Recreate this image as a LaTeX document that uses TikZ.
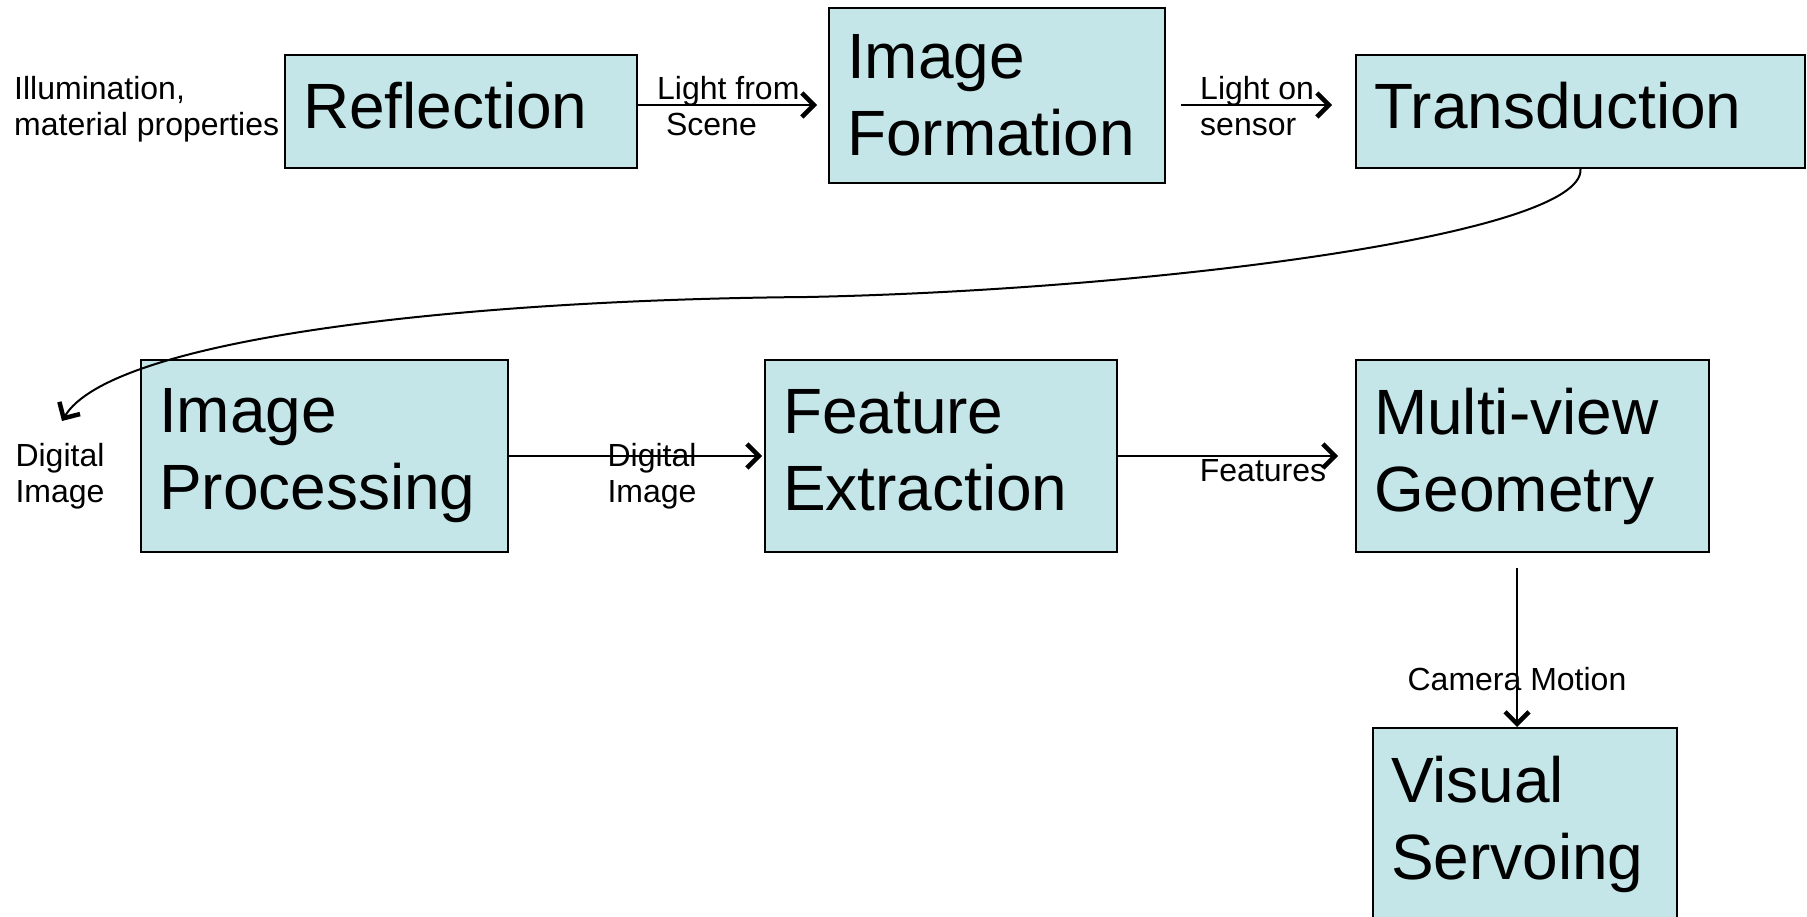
\documentclass[tikz,border=0pt]{standalone}
\usepackage{fontspec}
\setmainfont{Liberation Sans}
\usetikzlibrary{arrows.meta}
\definecolor{boxfill}{RGB}{196,230,232}
\newcommand{\dpstrut}{\rule[-13pt]{0pt}{13pt}}
\begin{document}
\begin{tikzpicture}[x=1pt,y=-1pt,
  box/.style={draw=black, line width=2pt, fill=boxfill, align=left, inner xsep=18pt, inner ysep=0pt, font=\fontsize{64}{77}\selectfont},
  lbl/.style={inner sep=0pt, font=\fontsize{32}{36}\selectfont},
  arr/.style={line width=2pt, -{Straight Barb[length=12pt,width=24pt,line width=4.5pt]}}]
\useasboundingbox (0,0) rectangle (1807,916);
\fill[white] (0,0) rectangle (1807,916);
\clip (0,0) rectangle (1807,916);

\node[box, text width=316pt, minimum height=113pt] (refl) at (461,111.5) {Reflection\dpstrut};
\node[box, text width=300pt, minimum height=175pt] (imgf) at (997,95.5) {Image\\Formation};
\node[box, text width=413pt, minimum height=113pt] (trans) at (1580.5,111.5) {Transduction\dpstrut};
\node[box, text width=331pt, minimum height=192pt] (ip) at (324.5,456) {Image\\Processing};
\node[box, text width=316pt, minimum height=192pt] (fe) at (941,456) {Feature\\Extraction\dpstrut};
\node[box, text width=317pt, minimum height=192pt] (mv) at (1532.5,456) {Multi-view\\Geometry};
\node[box, text width=268pt, minimum height=192pt] (vs) at (1525,824) {Visual\\Servoing};

\node[lbl, align=left, anchor=west] (illum) at (14,109.5) {Illumination,\\material properties};
\node[lbl, align=left, anchor=west] (lfs) at (657,105.7) {Light from\\\hspace*{0.278em}Scene};
\node[lbl, align=left, anchor=west] (los) at (1200,105.7) {Light on\\sensor};
\node[lbl, align=center] (dig1) at (60,476.5) {Digital\\Image};
\node[lbl, align=center] (dig2) at (652,476.5) {Digital\\Image};
\node[lbl] (feat) at (1263,471) {Features};
\node[lbl] (cam) at (1517,679) {Camera Motion};

\draw[arr, shorten >=11pt] ([yshift=6.5pt]refl.east) -- ([yshift=-9.5pt]imgf.west);
\draw[arr, shorten <=15pt, shorten >=23pt] ([yshift=-9.5pt]imgf.east) -- ([yshift=6.5pt]trans.west);
\draw[arr, shorten >=2pt] (ip.east) -- (fe.west);
\draw[arr, shorten >=17pt] (fe.east) -- (mv.west);
\draw[arr] ([xshift=-15.5pt,yshift=-15pt]mv.south) -- ([xshift=-15.5pt]mv.south |- vs.north);

\coordinate (dtip) at (62,421);
\draw[arr] (trans.south) .. controls (1585,235) and (1150,290) .. (807,297)
  .. controls (450,300) and (110,340) .. (dtip);
\end{tikzpicture}
\end{document}
